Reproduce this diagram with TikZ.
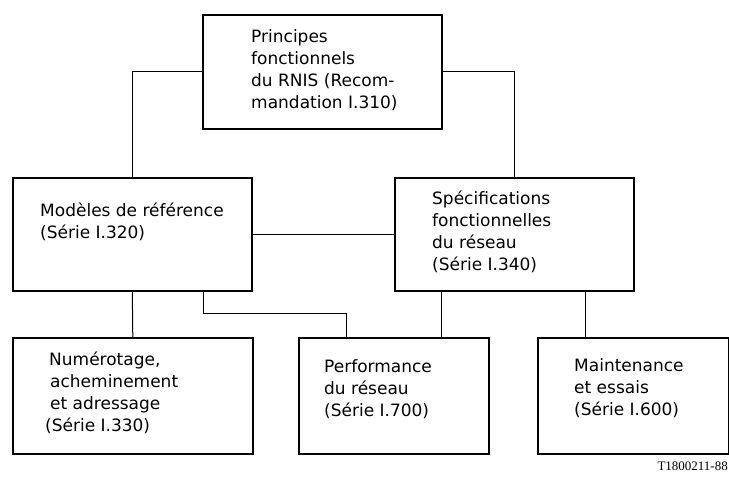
\documentclass[tikz,border=0pt]{standalone}
\usepackage{fontspec}
\setmainfont{DejaVu Sans}
\newfontfamily\codefont{Liberation Serif}
\usetikzlibrary{positioning,calc}
\tikzset{
    box/.style = {draw, line width=1.6pt, inner sep=0pt, anchor=north west},
    txt/.style = {align=left, anchor=west, inner sep=0pt, font=\fontsize{17}{22}\selectfont},
    link/.style = {line width=1pt}
}

\begin{document}
\begin{tikzpicture}[x=1pt, y=-1pt]
    \useasboundingbox (0,0) rectangle (729,482);

    % Boxes
    \node[box, minimum width=239pt, minimum height=114pt] (principes) at (202,14) {};
    \node[box, minimum width=239pt, minimum height=113pt] (refmod) at (12,177) {};
    \node[box, minimum width=239pt, minimum height=113pt] (specif) at (394,177) {};
    \node[box, minimum width=240pt, minimum height=116pt] (numerot) at (12,337) {};
    \node[box, minimum width=190pt, minimum height=116pt] (perf) at (298,337) {};
    \node[box, minimum width=191pt, minimum height=116pt] (maint) at (537,337) {};

    % Texts
    \node[txt] (principestxt) at (251,70) {Principes\\fonctionnels\\du RNIS (Recom-\\mandation I.310)};
    \node[txt] (refmodtxt) at (40,222) {Modèles de référence\\(Série I.320)};
    \node[txt] (speciftxt) at (432,232) {Spécifications\\fonctionnelles\\du réseau\\(Série I.340)};
    \node[txt] (numerottxt) at (45,393) {\hspace*{4pt}Numérotage,\\\hspace*{5pt}acheminement\\\hspace*{5pt}et adressage\\(Série I.330)};
    \node[txt] (perftxt) at (324,389) {Performance\\du réseau\\(Série I.700)};
    \node[txt] (mainttxt) at (574,388) {Maintenance\\et essais\\(Série I.600)};
    \node[anchor=base east, inner sep=0pt, font=\codefont\fontsize{13}{15}\selectfont] (code) at (728,470) {T1800211-88};

    % Connectors
    \coordinate (elbowa) at (203,313);
    \coordinate (elbowb) at (346,313);
    \coordinate (perfin) at (441,0);
    \coordinate (maintin) at (585,0);
    \draw[link] (principes.west) -| (refmod.north);
    \draw[link] (principes.east) -| (specif.north);
    \draw[link] (refmod.east) -- (specif.west);
    \draw[link] (refmod.south) -- (numerot.north);
    \draw[link] (elbowa |- refmod.south) -- (elbowa) -- (elbowb) -- (elbowb |- perf.north);
    \draw[link] (perfin |- specif.south) -- (perfin |- perf.north);
    \draw[link] (maintin |- specif.south) -- (maintin |- maint.north);

\end{tikzpicture}
\end{document}
